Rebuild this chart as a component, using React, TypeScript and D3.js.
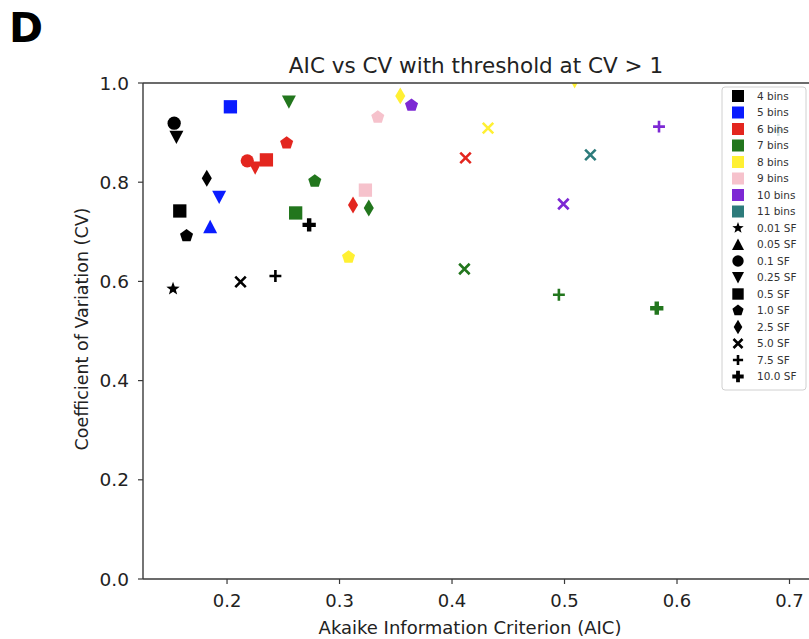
import React from "react";
import * as d3 from "d3";

const binLabels = ["4 bins", "5 bins", "6 bins", "7 bins", "8 bins", "9 bins", "10 bins", "11 bins"];
const binColors = ["#000000", "#0a1cff", "#e3261f", "#22761d", "#fff033", "#f6c2cc", "#7d28d4", "#2d7b7b"];
const sfLabels = ["0.01 SF", "0.05 SF", "0.1 SF", "0.25 SF", "0.5 SF", "1.0 SF", "2.5 SF", "5.0 SF", "7.5 SF", "10.0 SF"];
const sfMarkers = ["star", "triUp", "circle", "triDown", "square", "pentagon", "diamond", "x", "plus", "thickPlus"];

// each point: bin index, SF index, AIC, CV
const pointBin = [0, 0, 0, 0, 0, 0, 0, 0, 0, 1, 1, 1, 2, 2, 2, 2, 2, 2, 3, 3, 3, 3, 3, 3, 3, 4, 4, 4, 4, 5, 5, 6, 6, 6, 7, 7];
const pointSF = [0, 2, 3, 4, 5, 6, 7, 8, 9, 4, 3, 1, 2, 3, 4, 5, 6, 7, 3, 5, 4, 6, 7, 8, 9, 6, 7, 5, 3, 5, 4, 5, 7, 8, 7, 8];
const pointAIC = [0.152, 0.153, 0.155, 0.158, 0.164, 0.182, 0.212, 0.243, 0.273, 0.203, 0.193, 0.185, 0.218, 0.225, 0.235, 0.253, 0.312, 0.412, 0.255, 0.278, 0.261, 0.326, 0.411, 0.495, 0.582, 0.354, 0.432, 0.308, 0.509, 0.334, 0.323, 0.364, 0.499, 0.584, 0.523, 0.69];
const pointCV = [0.585, 0.919, 0.891, 0.742, 0.692, 0.808, 0.599, 0.611, 0.714, 0.952, 0.77, 0.71, 0.843, 0.829, 0.845, 0.879, 0.754, 0.849, 0.962, 0.802, 0.738, 0.748, 0.625, 0.573, 0.546, 0.974, 0.909, 0.649, 1.003, 0.931, 0.784, 0.955, 0.756, 0.912, 0.855, 0.905];

const xTicks = [0.2, 0.3, 0.4, 0.5, 0.6, 0.7];
const yTicks = [0.0, 0.2, 0.4, 0.6, 0.8, 1.0];

const FONT = "'DejaVu Sans', sans-serif";

function polygon(n: number, r: number, rot: number, inner?: number): string {
  const pts: [number, number][] = [];
  const total = inner ? n * 2 : n;
  for (let i = 0; i < total; i++) {
    const a = rot + (i * 2 * Math.PI) / total;
    const rr = inner && i % 2 === 1 ? r * inner : r;
    pts.push([rr * Math.sin(a), -rr * Math.cos(a)]);
  }
  return "M" + pts.map((p) => p[0].toFixed(2) + "," + p[1].toFixed(2)).join("L") + "Z";
}

function markerEl(kind: string, s: number, color: string, key?: string) {
  const h = s / 2;
  switch (kind) {
    case "circle":
      return <circle key={key} r={h * 0.95} fill={color} />;
    case "square":
      return <rect key={key} x={-h * 0.95} y={-h * 0.95} width={s * 0.95} height={s * 0.95} fill={color} />;
    case "triUp":
      return <path key={key} d={`M0,${-h}L${h},${h * 0.9}L${-h},${h * 0.9}Z`} fill={color} />;
    case "triDown":
      return <path key={key} d={`M0,${h}L${h},${-h * 0.9}L${-h},${-h * 0.9}Z`} fill={color} />;
    case "pentagon":
      return <path key={key} d={polygon(5, h * 0.98, 0)} fill={color} />;
    case "star":
      return <path key={key} d={polygon(5, h, 0, 0.42)} fill={color} />;
    case "diamond":
      return <path key={key} d={`M0,${-h * 1.2}L${h * 0.72},0L0,${h * 1.2}L${-h * 0.72},0Z`} fill={color} />;
    case "x": {
      const q = h * 0.75;
      return <path key={key} d={`M${-q},${-q}L${q},${q}M${-q},${q}L${q},${-q}`} stroke={color} strokeWidth={2.6} fill="none" />;
    }
    case "plus": {
      const q = h * 0.85;
      return <path key={key} d={`M${-q},0L${q},0M0,${-q}L0,${q}`} stroke={color} strokeWidth={2.6} fill="none" />;
    }
    case "thickPlus": {
      const q = h * 0.95;
      const w = q / 3;
      return (
        <path
          key={key}
          d={`M${-w},${-q}L${w},${-q}L${w},${-w}L${q},${-w}L${q},${w}L${w},${w}L${w},${q}L${-w},${q}L${-w},${w}L${-q},${w}L${-q},${-w}L${-w},${-w}Z`}
          fill={color}
        />
      );
    }
  }
  return null;
}

export default function App() {
  const W = 809;
  const H = 639;
  const left = 143;
  const right = 812;
  const top = 83;
  const bottom = 579;
  const x = d3.scaleLinear().domain([0.1253, 0.72]).range([left, right]);
  const y = d3.scaleLinear().domain([0, 1]).range([bottom, top]);

  const legendItems = [
    ...binLabels.map((l, i) => ({ label: l, kind: "legendSquare", color: binColors[i] })),
    ...sfLabels.map((l, i) => ({ label: l, kind: sfMarkers[i], color: "#000" })),
  ];
  const lgX = 722;
  const lgY = 87;
  const rowH = 16.5;
  const lgW = 84;
  const lgH = legendItems.length * rowH + 6;

  return (
    <svg width={W} height={H} style={{ position: "absolute", left: 0, top: 0, background: "#fff" }} fontFamily={FONT}>
      <defs>
        <clipPath id="plotclip">
          <rect x={left} y={top} width={right - left} height={bottom - top} />
        </clipPath>
      </defs>
      <rect x={0} y={0} width={W} height={H} fill="#fff" />
      <text x={9} y={42} fontSize={41} fontWeight="bold" fill="#000">D</text>
      <text x={476} y={73} fontSize={21.5} textAnchor="middle" fill="#222">AIC vs CV with threshold at CV &gt; 1</text>

      {/* points */}
      <g clipPath="url(#plotclip)">
        {pointAIC.map((a, i) => (
          <g key={i} transform={`translate(${x(a)},${y(pointCV[i])})`}>
            {markerEl(sfMarkers[pointSF[i]], 14, binColors[pointBin[i]])}
          </g>
        ))}
      </g>

      {/* spines */}
      <g stroke="#3a3a3a" strokeWidth={1.4} fill="none">
        <line x1={left} y1={top} x2={right} y2={top} />
        <line x1={left} y1={bottom} x2={right} y2={bottom} />
        <line x1={left} y1={top} x2={left} y2={bottom} />
      </g>

      {/* y ticks */}
      {yTicks.map((t) => (
        <g key={"y" + t}>
          <line x1={left - 5} x2={left} y1={y(t)} y2={y(t)} stroke="#3a3a3a" strokeWidth={1.2} />
          <text x={left - 14} y={y(t)} dy="0.36em" textAnchor="end" fontSize={18.5} fill="#222">
            {t.toFixed(1)}
          </text>
        </g>
      ))}
      {/* x ticks */}
      {xTicks.map((t) => (
        <g key={"x" + t}>
          <line x1={x(t)} x2={x(t)} y1={bottom} y2={bottom + 5} stroke="#3a3a3a" strokeWidth={1.2} />
          <text x={x(t)} y={607} textAnchor="middle" fontSize={18} fill="#222">
            {t.toFixed(1)}
          </text>
        </g>
      ))}

      <text x={470} y={634} textAnchor="middle" fontSize={18} fill="#222">Akaike Information Criterion (AIC)</text>
      <text transform={`translate(88,${(top + bottom) / 2 - 2}) rotate(-90)`} textAnchor="middle" fontSize={17.5} fill="#222">
        Coefficient of Variation (CV)
      </text>

      {/* legend */}
      <g>
        <rect x={lgX} y={lgY} width={lgW} height={lgH} rx={3} fill="#fff" fillOpacity={0.8} stroke="#d0d0d0" strokeWidth={1} />
        {legendItems.map((it, i) => {
          const cy = lgY + 9 + i * rowH;
          return (
            <g key={"lg" + i}>
              <g transform={`translate(738,${cy})`}>
                {it.kind === "legendSquare" ? (
                  <rect x={-6} y={-6} width={12} height={12} fill={it.color} />
                ) : (
                  markerEl(it.kind, 12, it.color)
                )}
              </g>
              <text x={757} y={cy} dy="0.36em" fontSize={10.5} fill="#333">
                {it.label}
              </text>
            </g>
          );
        })}
      </g>
    </svg>
  );
}
